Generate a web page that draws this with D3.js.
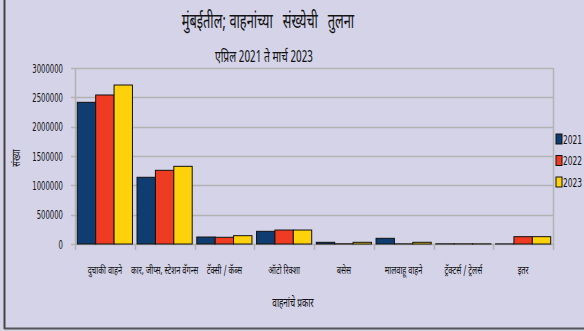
<!DOCTYPE html>
<html>
<head>
<meta charset="utf-8">
<script src="https://cdn.jsdelivr.net/npm/d3@7"></script>
<style>
body { margin: 0; background: #d4d3e8; }
svg { display: block; }
text { font-family: "Noto Sans Devanagari", "Lohit Devanagari", "DejaVu Sans", sans-serif; fill: #111; white-space: pre; }
</style>
</head>
<body>
<div id="chart"></div>
<script>
// data
var categories = ["दुचाकी वाहने", "कार, जीप्स, स्टेशन वॅगन्स", "टॅक्सी / कॅब्स", "ऑटो रिक्शा", "बसेस", "मालवाहू वाहने", "ट्रॅक्टर्स / ट्रेलर्स", "इतर"];
var years = ["2021", "2022", "2023"];
var v2021 = [2415000, 1137000, 119000, 216000, 29000, 97000, 3000, 2000];
var v2022 = [2540000, 1256000, 114000, 238000, 4000, 3000, 3000, 125000];
var v2023 = [2710000, 1324000, 142000, 238000, 29000, 29000, 3000, 125000];
var yTicks = [0, 500000, 1000000, 1500000, 2000000, 2500000, 3000000];
var colors = ["#0f3d72", "#ef3b22", "#fdd20a"];

var W = 584, H = 331;
var m = {left: 75, right: 31, top: 68, bottom: 87};
var series = [v2021, v2022, v2023];

var svg = d3.select("#chart").append("svg").attr("width", W).attr("height", H);

// the original uses a narrow font, so squeeze text sideways
function narrowText(parent, tx, ty, size, anchor, str, sq) {
  return parent.append("text")
    .attr("transform", "translate(" + tx + "," + ty + ") scale(" + (sq || 0.72) + ",1)")
    .attr("text-anchor", anchor)
    .style("font-size", size + "px")
    .text(str);
}

// outer frame
svg.append("line").attr("x1", 4.5).attr("x2", 4.5).attr("y1", 0).attr("y2", 329).attr("stroke", "#444").attr("stroke-width", 2);
svg.append("line").attr("x1", 4).attr("x2", W).attr("y1", 328.5).attr("y2", 328.5).attr("stroke", "#555").attr("stroke-width", 2);

var x = d3.scaleBand().domain(categories).range([m.left, W - m.right]).paddingInner(0).paddingOuter(0);
var xs = d3.scaleBand().domain(years).range([0, x.bandwidth()]).paddingInner(0).paddingOuter(0.125);
var y = d3.scaleLinear().domain([0, 3000000]).range([H - m.bottom, m.top]);

// gridlines
svg.append("g").selectAll("line").data(yTicks).join("line")
  .attr("x1", m.left - 4).attr("x2", W - m.right)
  .attr("y1", function(d) { return Math.round(y(d)) + 0.5; }).attr("y2", function(d) { return Math.round(y(d)) + 0.5; })
  .attr("stroke", "#b3b3b3").attr("stroke-width", 1.5);

// plot border lines
svg.append("line").attr("x1", m.left + 0.5).attr("x2", m.left + 0.5).attr("y1", m.top).attr("y2", y(0) + 6).attr("stroke", "#b3b3b3").attr("stroke-width", 1.5);
svg.append("line").attr("x1", W - m.right + 0.5).attr("x2", W - m.right + 0.5).attr("y1", m.top).attr("y2", y(0) + 6).attr("stroke", "#b3b3b3").attr("stroke-width", 1.5);

// category ticks
svg.append("g").selectAll("line").data(categories.slice(1)).join("line")
  .attr("x1", function(d) { return Math.round(x(d)) + 0.5; }).attr("x2", function(d) { return Math.round(x(d)) + 0.5; })
  .attr("y1", y(0)).attr("y2", y(0) + 6)
  .attr("stroke", "#b3b3b3").attr("stroke-width", 1.5);

// y axis labels
var yAxis = d3.axisLeft(y).tickValues(yTicks).tickSize(0).tickFormat(d3.format("d"));
var ya = svg.append("g").attr("transform", "translate(" + m.left + ",0)").call(yAxis);
ya.select(".domain").remove();
ya.selectAll("text")
  .attr("x", null).attr("dy", "0.35em")
  .attr("transform", "translate(-12,0) scale(0.6,1)")
  .style("font-size", "11.5px").style("font-family", "DejaVu Sans, sans-serif").attr("fill", "#222");

// bars
var groups = svg.append("g").selectAll("g").data(categories).join("g")
  .attr("transform", function(d) { return "translate(" + x(d) + ",0)"; });
groups.selectAll("rect").data(function(d, i) { return years.map(function(yr, j) { return {yr: yr, v: series[j][i], j: j}; }); })
  .join("rect")
  .attr("x", function(d) { return xs(d.yr); })
  .attr("width", xs.bandwidth())
  .attr("y", function(d) { return y(d.v); })
  .attr("height", function(d) { return y(0) - y(d.v); })
  .attr("fill", function(d) { return colors[d.j]; })
  .attr("stroke", "#111").attr("stroke-width", 1);

// category labels
var catG = svg.append("g");
categories.forEach(function(c) {
  narrowText(catG, x(c) + x.bandwidth() / 2, 274, 11, "middle", c, 0.68);
});

// titles
narrowText(svg, 268, 28, 20, "middle", "मुंबईतील; वाहनांच्या   संख्येची   तुलना", 0.64);
narrowText(svg, 264, 62, 16, "middle", "एप्रिल 2021 ते मार्च 2023", 0.64);
narrowText(svg, 293, 307, 12, "middle", "वाहनांचे प्रकार", 0.68);
svg.append("text").attr("transform", "translate(20,158) rotate(-90) scale(0.75,1)")
  .attr("text-anchor", "middle").style("font-size", "11px").text("संख्या");

// legend
var leg = svg.append("g").selectAll("g").data(years).join("g")
  .attr("transform", function(d, i) { return "translate(556," + (139 + i * 21.5) + ")"; });
leg.append("rect").attr("x", 0).attr("y", -5).attr("width", 6).attr("height", 10)
  .attr("fill", function(d, i) { return colors[i]; }).attr("stroke", "#111").attr("stroke-width", 1);
leg.append("text").attr("transform", "translate(7,4.5) scale(0.6,1)")
  .style("font-size", "12.5px").style("font-family", "DejaVu Sans, sans-serif").text(function(d) { return d; });
</script>
</body>
</html>
